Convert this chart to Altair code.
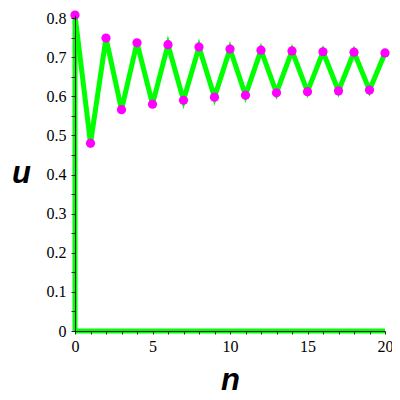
import altair as alt
import pandas as pd

n_vals = list(range(21))
u_vals = [0.808, 0.480, 0.749, 0.566, 0.737, 0.580, 0.732, 0.590, 0.726, 0.598,
          0.721, 0.603, 0.718, 0.609, 0.716, 0.612, 0.714, 0.614, 0.713, 0.616, 0.711]
x_tick_vals = list(range(21))
y_tick_vals = [round(i * 0.05, 2) for i in range(17)]

df = pd.DataFrame({"n": n_vals, "u": u_vals})
# green segments running along the two axes
rules = pd.DataFrame({
    "n": [n_vals[0], n_vals[0]],
    "n2": [n_vals[-1], n_vals[0]],
    "u": [0.0, 0.0],
    "u2": [0.0, u_vals[0]],
})

W, H = 310, 316
xs = alt.Scale(domain=[0, 20], nice=False, zero=False)
ys = alt.Scale(domain=[0, 0.808], nice=False, zero=False)

SERIF = "Liberation Serif"

common = dict(labelFont=SERIF, labelFontSize=16, labelColor="black",
              domainColor="#222222", tickColor="#222222", grid=False, zindex=1,
              labelOverlap=False, labelFlush=False,
              titleFont="Liberation Sans", titleFontSize=31,
              titleFontWeight="bold", titleFontStyle="italic", titleColor="black")

x_axis = alt.Axis(values=x_tick_vals, title="n", tickSize=3, labelPadding=4,
                  labelExpr="datum.value % 5 == 0 ? datum.label : ''",
                  titleX=155, titleY=58, titleBaseline="alphabetic",
                  titleAnchor="start", titleAlign="center", orient="bottom", **common)
y_axis = alt.Axis(values=y_tick_vals, title="u", tickSize=4, labelPadding=5,
                  format=".1~f",
                  labelExpr="round(datum.value * 100) % 10 == 0 ? datum.label : ''",
                  titleAngle=0, titleX=-54, titleY=167, titleBaseline="alphabetic",
                  titleAlign="center", orient="left", **common)

X = alt.X("n:Q", scale=xs, axis=x_axis)
Y = alt.Y("u:Q", scale=ys, axis=y_axis)

rule_layer = alt.Chart(rules).mark_rule(color="#00ff00", strokeWidth=5).encode(
    x=X, x2="n2:Q", y=Y, y2="u2:Q")
line = alt.Chart(df).mark_line(color="#00ff00", strokeWidth=5).encode(x=X, y=Y)
points = alt.Chart(df).mark_point(filled=True, color="#ff00ff", opacity=1, size=85).encode(
    x=X, y=Y)

chart = alt.layer(rule_layer, line, points).properties(
    width=W, height=H,
    autosize=alt.AutoSizeParams(type="none"),
    padding={"left": 67, "top": 7, "right": 7, "bottom": 69},
).configure_view(stroke=None).configure_axis(
    labelOverlap=False, labelFont=SERIF, labelFontSize=16
)

chart.save("out.html", embed_options={"renderer": "svg", "actions": False})
